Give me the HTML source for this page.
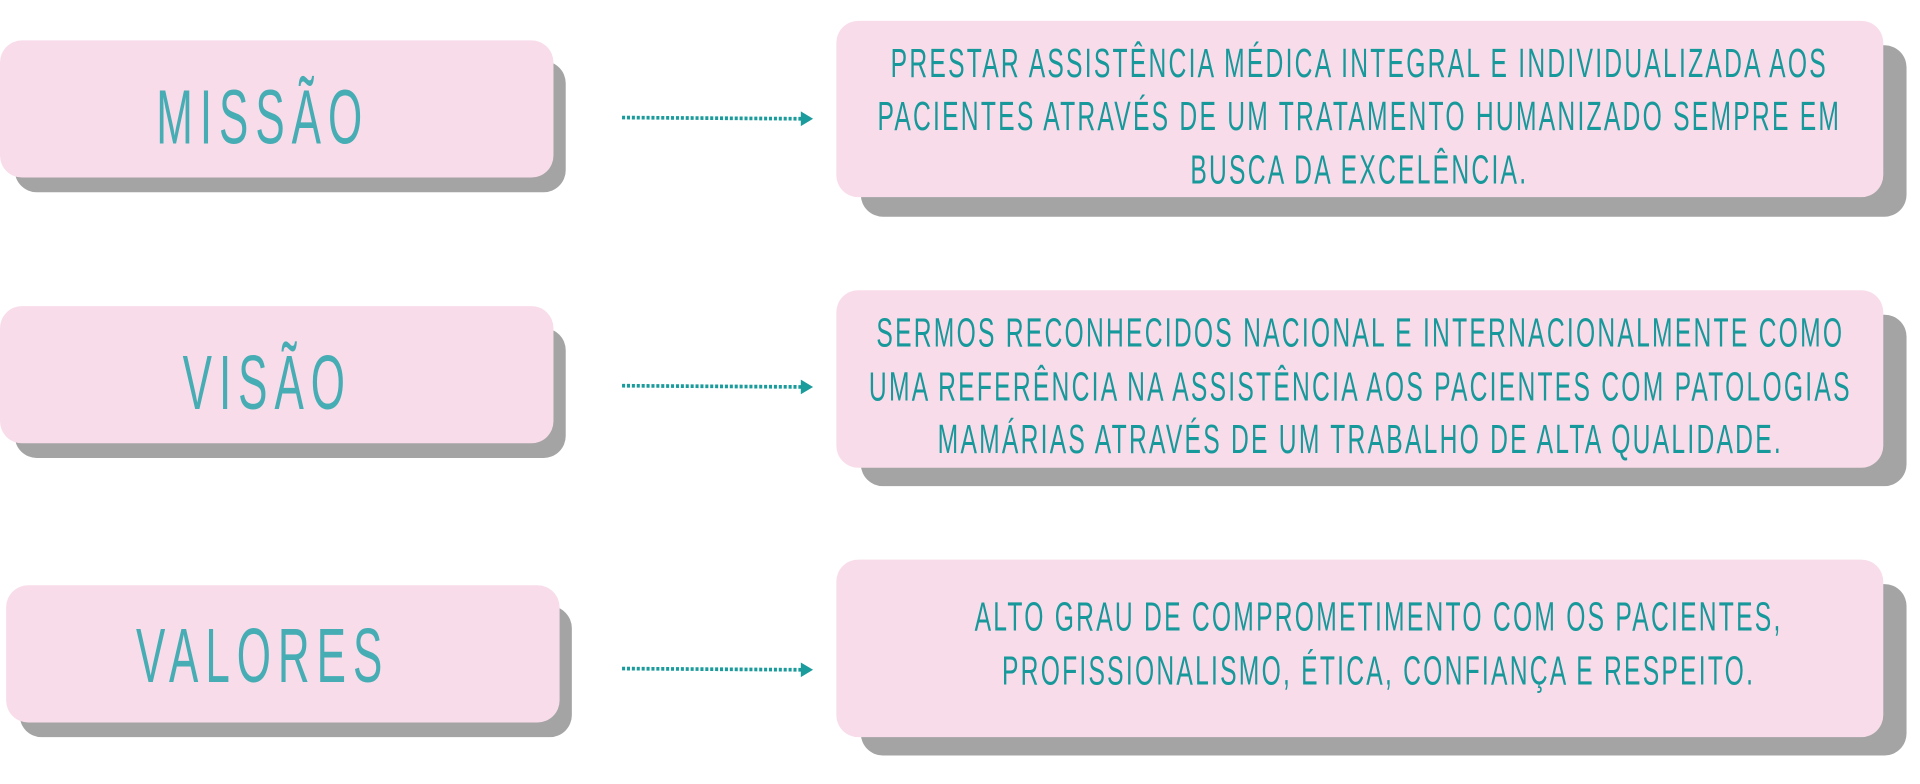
<!DOCTYPE html>
<html><head><meta charset="utf-8"><style>
html,body{margin:0;padding:0;background:#fff;}
body{width:1920px;height:780px;overflow:hidden;position:relative;}
#s{position:absolute;left:0;top:0;width:1568px;height:640px;transform:scale(1.2245);transform-origin:0 0;}
.b{position:absolute;background:#f8dce9;border-radius:18px;overflow:visible;box-sizing:border-box;}
.sh{position:absolute;background:#a4a4a4;border-radius:18px;}
.lab{display:flex;align-items:center;justify-content:center;font-family:"Liberation Sans",sans-serif;color:#46adb4;font-size:63px;line-height:63px;letter-spacing:10px;}
.lab span{display:inline-block;transform:scaleX(0.57);white-space:nowrap;}
.txt{display:flex;align-items:center;justify-content:center;text-align:center;font-family:"Liberation Sans",sans-serif;color:#17999b;font-size:33px;line-height:43.5px;letter-spacing:3px;white-space:nowrap;}
.txt div{transform:scaleX(0.61);flex:none;}
.arr{position:absolute;}
</style></head><body><div id="s">
<div class="sh" style="left:12px;top:50px;width:450px;height:107px"></div>
<div class="b lab" style="left:0;top:33px;width:452px;height:112px;padding-top:14px;padding-right:22px"><span>MISSÃO</span></div>
<div class="sh" style="left:12px;top:268px;width:450px;height:106px"></div>
<div class="b lab" style="left:0;top:250px;width:452px;height:112px;padding-top:14px;padding-right:16px"><span>VISÃO</span></div>
<div class="sh" style="left:16px;top:495px;width:451px;height:107px"></div>
<div class="b lab" style="left:5px;top:478px;width:452px;height:112px;padding-top:4px;padding-right:34px"><span>VALORES</span></div>

<div class="sh" style="left:703px;top:37px;width:854px;height:140px"></div>
<div class="b txt" style="left:683px;top:17px;width:855px;height:144px;padding-top:12px"><div>PRESTAR ASSISTÊNCIA MÉDICA INTEGRAL E INDIVIDUALIZADA AOS<br>PACIENTES ATRAVÉS DE UM TRATAMENTO HUMANIZADO SEMPRE EM<br>BUSCA DA EXCELÊNCIA.</div></div>
<div class="sh" style="left:703px;top:257px;width:854px;height:140px"></div>
<div class="b txt" style="left:683px;top:237px;width:855px;height:145px;padding-top:12px"><div>SERMOS RECONHECIDOS NACIONAL E INTERNACIONALMENTE COMO<br>UMA REFERÊNCIA NA ASSISTÊNCIA AOS PACIENTES COM PATOLOGIAS<br>MAMÁRIAS ATRAVÉS DE UM TRABALHO DE ALTA QUALIDADE.</div></div>
<div class="sh" style="left:703px;top:477px;width:854px;height:140px"></div>
<div class="b txt" style="left:683px;top:457px;width:855px;height:145px;padding-top:0;padding-bottom:8px"><div style="margin-left:30px">ALTO GRAU DE COMPROMETIMENTO COM OS PACIENTES,<br>PROFISSIONALISMO, ÉTICA, CONFIANÇA E RESPEITO.</div></div>

<svg class="arr" style="left:0;top:0" width="1568" height="640">
<g stroke="#1a9b9c" stroke-width="3" stroke-dasharray="2.5 1.5" fill="none">
<line x1="508" y1="96" x2="656" y2="97"/>
<line x1="508" y1="315" x2="656" y2="316"/>
<line x1="508" y1="546" x2="656" y2="547"/>
</g>
<g fill="#1a9b9c">
<path d="M654 91 L664 97 L654 103 Z"/>
<path d="M654 310 L664 316 L654 322 Z"/>
<path d="M654 541 L664 547 L654 553 Z"/>
</g>
</svg>
</div></body></html>
